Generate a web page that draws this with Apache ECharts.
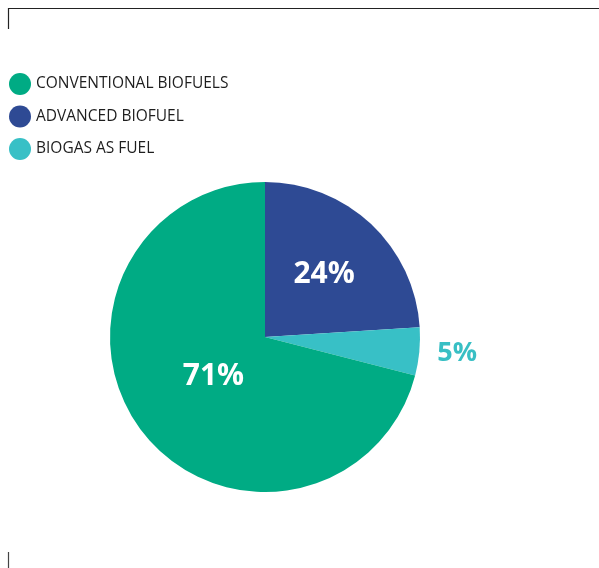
<!DOCTYPE html>
<html>
<head>
<meta charset="utf-8">
<script src="https://cdn.jsdelivr.net/npm/echarts@6/dist/echarts.min.js"></script>
<style>
  html, body { margin: 0; padding: 0; background: #fff; }
  #chart { width: 599px; height: 568px; }
</style>
</head>
<body>
<div id="chart"></div>
<script>
// Fuel shares (%), drawn clockwise from 12 o'clock
const categories = ['ADVANCED BIOFUEL', 'BIOGAS AS FUEL', 'CONVENTIONAL BIOFUELS'];
const shares = [24, 5, 71];
const legendOrder = ['CONVENTIONAL BIOFUELS', 'ADVANCED BIOFUEL', 'BIOGAS AS FUEL'];

const colors = {
  'ADVANCED BIOFUEL': '#2e4a94',
  'BIOGAS AS FUEL': '#38c0c6',
  'CONVENTIONAL BIOFUELS': '#00ab84'
};
// label placement per slice
const labelStyle = {
  'ADVANCED BIOFUEL': { offset: [4, -4], color: '#fff', fontSize: 30 },
  'BIOGAS AS FUEL': { offset: [112, 9], color: '#38bfc4', fontSize: 27 },
  'CONVENTIONAL BIOFUELS': { offset: [12, -10], color: '#fff', fontSize: 30 }
};

const chart = echarts.init(document.getElementById('chart'), null, { renderer: 'canvas' });

chart.setOption({
  animation: false,
  backgroundColor: '#fff',
  legend: {
    orient: 'vertical',
    left: 4,
    top: 68,
    icon: 'circle',
    itemWidth: 22,
    itemHeight: 22,
    itemGap: 10.5,
    data: legendOrder,
    textStyle: {
      fontFamily: 'Open Sans',
      fontSize: 15.5,
      color: '#1e1e1e'
    },
    selectedMode: false
  },
  graphic: [
    { type: 'line', shape: { x1: 8, y1: 8.5, x2: 599, y2: 8.5 }, style: { stroke: '#222', lineWidth: 1.2 } },
    { type: 'line', shape: { x1: 8.5, y1: 8, x2: 8.5, y2: 29 }, style: { stroke: '#222', lineWidth: 1.2 } },
    { type: 'line', shape: { x1: 8.5, y1: 552, x2: 8.5, y2: 568 }, style: { stroke: '#444', lineWidth: 1.2 } }
  ],
  series: [{
    type: 'pie',
    center: [265, 337],
    radius: [0, 155],
    startAngle: 90,
    clockwise: true,
    silent: true,
    itemStyle: { borderWidth: 0 },
    labelLine: { show: false },
    data: categories.map((name, i) => ({
      name: name,
      value: shares[i],
      itemStyle: { color: colors[name] },
      label: {
        show: true,
        position: 'inside',
        formatter: shares[i] + '%',
        fontFamily: 'Open Sans',
        fontWeight: 'bold',
        fontSize: labelStyle[name].fontSize,
        color: labelStyle[name].color,
        offset: labelStyle[name].offset
      }
    }))
  }]
});
</script>
</body>
</html>
